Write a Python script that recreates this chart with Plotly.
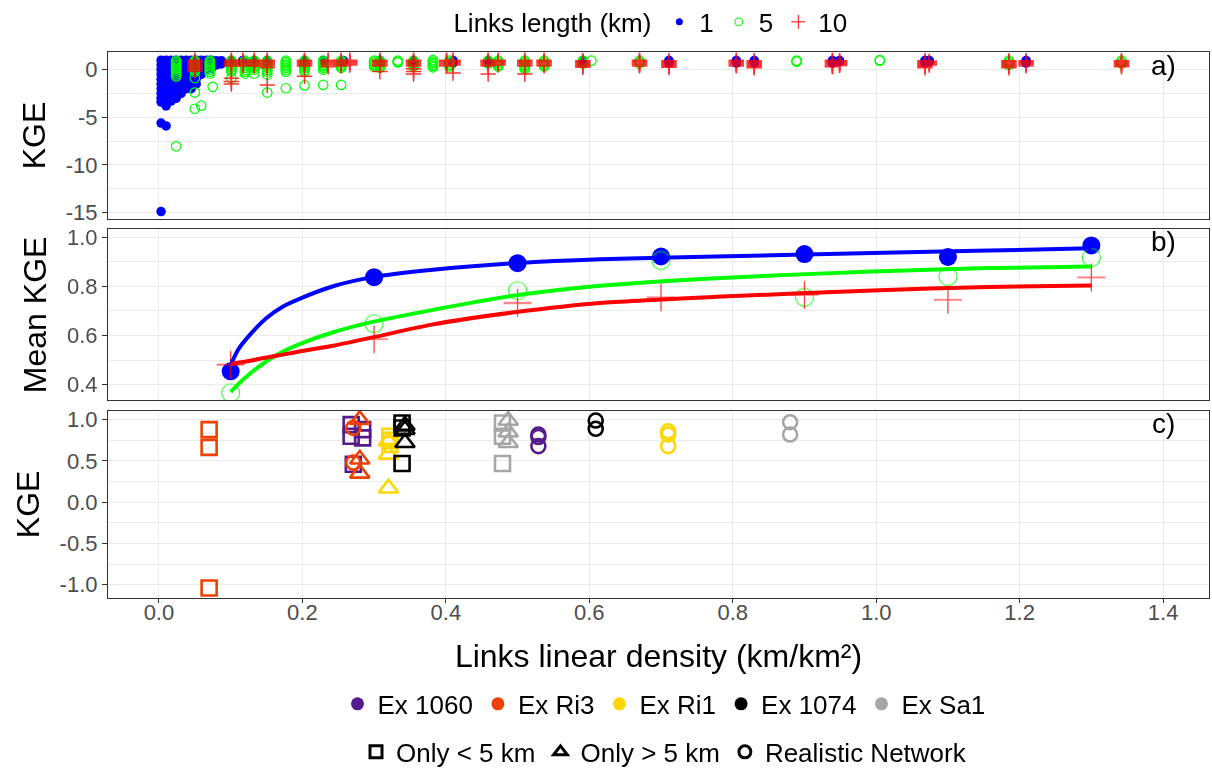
import plotly.graph_objects as go

FONT = "Liberation Sans"

# ---------------- Panel a: KGE of every link, by link length ----------------
# (links linear density, [KGE values])
a_len1 = [
    (0.003, [1.0, 0.5, 0.0, -0.5, -1.0, -1.5, -2.0, -2.5, -3.0, -3.4, -5.6, -14.9]),
    (0.010, [1.0, 0.5, 0.0, -0.5, -1.0, -1.5, -2.0, -2.5, -3.0, -3.5, -3.8, -5.9]),
    (0.017, [1.0, 0.5, 0.0, -0.5, -1.0, -1.5, -2.0, -2.5, -3.0, -3.3]),
    (0.024, [1.0, 0.5, 0.0, -0.5, -1.0, -1.5, -2.0, -2.5, -3.0]),
    (0.031, [1.0, 0.5, 0.0, -0.5, -1.0, -1.5, -2.0, -2.5]),
    (0.038, [1.0, 0.5, 0.0, -0.5, -1.0, -1.5, -2.0]),
    (0.045, [1.0, 0.5, 0.0, -0.5, -1.0, -1.5, -2.0]),
    (0.052, [1.0, 0.5, 0.0, -0.5, -1.0, -1.5]),
    (0.059, [1.0, 0.5, 0.0, -0.5]),
    (0.066, [1.0, 0.5, 0.0]),
    (0.073, [1.0, 0.5, 0.1]),
    (0.080, [0.95, 0.5]),
    (0.087, [0.95, 0.6]),
    (0.101, [0.97, 0.85, 0.7]),
    (0.117, [0.97, 0.85, 0.7]),
    (0.133, [0.97, 0.85, 0.7]),
    (0.151, [0.97, 0.85, 0.7]),
    (0.203, [0.97, 0.85, 0.7]),
    (0.229, [0.97, 0.85]),
    (0.257, [0.97, 0.85]),
    (0.308, [0.97, 0.85, 0.7]),
    (0.355, [0.97, 0.85, 0.7]),
    (0.410, [0.97, 0.85, 0.7]),
    (0.459, [0.97, 0.85, 0.7]),
    (0.591, [0.97, 0.85, 0.7]),
    (0.711, [0.97, 0.85, 0.7]),
    (0.805, [0.97, 0.85, 0.7]),
    (0.830, [0.97, 0.85, 0.7]),
    (0.939, [0.97, 0.85, 0.7]),
    (0.949, [0.97, 0.85]),
    (1.068, [0.97, 0.85, 0.7]),
    (1.074, [0.97, 0.85]),
    (1.209, [0.97, 0.85, 0.7]),
]
a_len5 = [
    (0.024, [0.95, 0.8, 0.65, 0.5, 0.35, 0.2, 0.05, -0.1, -0.3, -0.5, -0.7, -8.05]),
    (0.050, [0.95, 0.8, 0.65, 0.5, 0.35, 0.2, 0.0, -0.2, -0.87, -2.4, -4.1]),
    (0.059, [-3.78]),
    (0.071, [0.95, 0.8, 0.65, 0.5, 0.35, 0.2, 0.0, -0.2, -0.4]),
    (0.075, [-1.8]),
    (0.101, [0.95, 0.8, 0.65, 0.5, 0.35, 0.2, 0.0, -0.2, -0.9]),
    (0.120, [0.95, 0.8, 0.65, 0.5, 0.35, 0.2, 0.0, -0.2, -0.4]),
    (0.133, [0.95, 0.8, 0.65, 0.5, 0.35, 0.2, 0.0, -0.4]),
    (0.151, [0.95, 0.8, 0.65, 0.5, 0.35, 0.2, 0.0, -0.2, -0.5, -2.4]),
    (0.177, [0.95, 0.8, 0.65, 0.5, 0.35, 0.2, 0.0, -0.2, -1.95]),
    (0.203, [0.95, 0.8, 0.65, 0.5, 0.35, 0.2, 0.0, -0.2, -1.65]),
    (0.229, [0.95, 0.8, 0.65, 0.5, 0.35, 0.2, 0.0, -1.6]),
    (0.254, [0.95, 0.8, 0.65, 0.5, 0.35, 0.2, -1.6]),
    (0.300, [0.95, 0.8, 0.65, 0.5, 0.35]),
    (0.308, [0.95, 0.8, 0.65, 0.5, 0.35, 0.2]),
    (0.333, [0.95, 0.85, 0.75]),
    (0.355, [0.95, 0.8, 0.65, 0.5, 0.35]),
    (0.382, [1.0, 0.85, 0.7, 0.55, 0.4, 0.25]),
    (0.405, [0.95, 0.8, 0.65, 0.5, 0.35]),
    (0.459, [0.95, 0.8, 0.65]),
    (0.473, [0.95, 0.8, 0.65, 0.5, 0.35]),
    (0.510, [0.95, 0.8, 0.65, 0.5, 0.35, 0.2, 0.05]),
    (0.537, [0.95, 0.8, 0.65, 0.5, 0.35]),
    (0.591, [0.95, 0.8, 0.65]),
    (0.603, [0.95]),
    (0.670, [0.95, 0.8, 0.65]),
    (0.889, [0.95, 0.85]),
    (1.005, [1.0, 0.95]),
    (1.185, [0.95, 0.8, 0.65, 0.5]),
    (1.342, [0.95, 0.8, 0.65]),
]
a_len10 = [
    (0.050, [1.0, 0.9, 0.8, 0.7, 0.6, 0.5, 0.4, 0.3, 0.2, 0.1, 0.0, -0.15]),
    (0.101, [1.0, 0.9, 0.8, 0.7, 0.6, 0.5, 0.4, -0.9, -1.25, -1.5]),
    (0.117, [1.0, 0.9, 0.8, 0.7, 0.6, 0.5, 0.4]),
    (0.133, [1.0, 0.9, 0.8, 0.7, 0.6, 0.5, 0.4]),
    (0.151, [1.0, 0.9, 0.8, 0.7, 0.6, 0.5, 0.4, 0.2, -1.6]),
    (0.203, [1.0, 0.9, 0.8, 0.7, 0.6, 0.5, 0.4, -0.7]),
    (0.236, [1.0, 0.9, 0.8, 0.7, 0.6, 0.5, 0.3]),
    (0.254, [1.0, 0.9, 0.8, 0.7, 0.6, 0.5, 0.4]),
    (0.266, [1.0, 0.9, 0.8, 0.7, 0.6, 0.5]),
    (0.308, [1.0, 0.9, 0.8, 0.7, 0.6, 0.5, 0.4, -0.2]),
    (0.355, [1.0, 0.9, 0.8, 0.7, 0.6, 0.5, 0.4, 0.1, -0.2, -0.45]),
    (0.401, [1.0, 0.9, 0.8, 0.7, 0.6, 0.5, 0.4]),
    (0.410, [1.0, 0.9, 0.8, 0.7, 0.6, 0.5, -0.35]),
    (0.459, [1.0, 0.9, 0.8, 0.7, 0.6, 0.5, 0.4, -0.45]),
    (0.473, [1.0, 0.9, 0.8, 0.7, 0.6, 0.5]),
    (0.510, [1.0, 0.9, 0.8, 0.7, 0.6, 0.5, 0.4, -0.45]),
    (0.537, [1.0, 0.9, 0.8, 0.7, 0.6, 0.5, 0.4]),
    (0.591, [0.95, 0.85, 0.75, 0.65, 0.55, 0.45, 0.35, 0.25]),
    (0.670, [1.0, 0.9, 0.8, 0.7, 0.6, 0.5, 0.4]),
    (0.711, [0.95, 0.85, 0.75, 0.65, 0.55, 0.45, 0.35, 0.25]),
    (0.805, [1.0, 0.9, 0.8, 0.7, 0.6, 0.5, 0.4]),
    (0.830, [0.95, 0.85, 0.75, 0.65, 0.55, 0.45, 0.35, 0.2]),
    (0.939, [1.0, 0.9, 0.8, 0.7, 0.6, 0.5, 0.4, 0.3]),
    (0.949, [0.95, 0.85, 0.75, 0.65, 0.55, 0.45]),
    (1.068, [0.95, 0.85, 0.75, 0.65, 0.55, 0.45, 0.35, 0.2]),
    (1.074, [0.9, 0.8, 0.7, 0.6, 0.5]),
    (1.185, [0.95, 0.85, 0.75, 0.65, 0.55, 0.45, 0.35, 0.2]),
    (1.209, [0.95, 0.85, 0.75, 0.65, 0.55, 0.4]),
    (1.342, [0.95, 0.85, 0.75, 0.65, 0.55, 0.45, 0.3]),
]

# ---------------- Panel b: mean KGE and fitted curves ----------------
b_x = [0.1, 0.3, 0.5, 0.7, 0.9, 1.1, 1.3]
b_len1 = [0.454, 0.837, 0.894, 0.921, 0.931, 0.919, 0.966]
b_len5 = [0.366, 0.648, 0.782, 0.905, 0.755, 0.840, 0.917]
b_len10 = [0.481, 0.585, 0.732, 0.755, 0.765, 0.745, 0.836]

fit_x = [0.10, 0.11, 0.127, 0.15, 0.173, 0.196, 0.243, 0.298, 0.382, 0.498, 0.615, 0.777, 0.995, 1.157, 1.30]
fit_len1 = [0.48, 0.54, 0.603, 0.671, 0.718, 0.749, 0.80, 0.837, 0.867, 0.894, 0.91, 0.921, 0.935, 0.945, 0.955]
fit_len5 = [0.37, 0.40, 0.445, 0.495, 0.535, 0.565, 0.613, 0.655, 0.704, 0.763, 0.802, 0.833, 0.86, 0.874, 0.88]
fit_len10 = [0.484, 0.489, 0.497, 0.51, 0.522, 0.535, 0.558, 0.592, 0.645, 0.695, 0.732, 0.757, 0.783, 0.797, 0.803]

# ---------------- Panel c: KGE per example and network type ----------------
examples = ["Ex 1060", "Ex Ri3", "Ex Ri1", "Ex 1074", "Ex Sa1"]
example_colors = ["#551A8B", "#EE4000", "#FFD700", "#000000", "#A6A6A6"]
network_types = ["Only < 5 km", "Only > 5 km", "Realistic Network"]

c_small_x = [[0.268, 0.284, 0.268, 0.284, 0.271], [0.07, 0.07, 0.07], [0.322, 0.322, 0.322],
             [0.339, 0.339, 0.339], [0.479, 0.479, 0.479]]
c_small_y = [[0.94, 0.88, 0.80, 0.78, 0.46], [0.88, 0.665, -1.04], [0.80, 0.75, 0.70],
             [0.96, 0.90, 0.47], [0.96, 0.80, 0.47]]
c_large_x = [[], [0.28, 0.28, 0.28], [0.32, 0.32, 0.32], [0.343, 0.343, 0.343], [0.487, 0.487, 0.487]]
c_large_y = [[], [1.0, 0.52, 0.35], [0.74, 0.58, 0.17], [0.93, 0.88, 0.72], [0.99, 0.85, 0.72]]
c_real_x = [[0.529, 0.529, 0.529], [0.271, 0.271], [0.71, 0.71, 0.71], [0.609, 0.609], [0.88, 0.88]]
c_real_y = [[0.82, 0.79, 0.68], [0.90, 0.48], [0.86, 0.82, 0.68], [0.99, 0.89], [0.97, 0.82]]

# axis tick labels
a_ticks = [0, -5, -10, -15]
a_ticktext = ["0", "-5", "-10", "-15"]
b_ticks = [0.4, 0.6, 0.8, 1.0]
b_ticktext = ["0.4", "0.6", "0.8", "1.0"]
c_ticks = [-1.0, -0.5, 0.0, 0.5, 1.0]
c_ticktext = ["-1.0", "-0.5", "0.0", "0.5", "1.0"]
x_ticks = [0.0, 0.2, 0.4, 0.6, 0.8, 1.0, 1.2, 1.4]
x_ticktext = ["0.0", "0.2", "0.4", "0.6", "0.8", "1.0", "1.2", "1.4"]


def flatten(cols):
    xs, ys = [], []
    for x, vals in cols:
        for v in vals:
            xs.append(x)
            ys.append(v)
    return xs, ys


fig = go.Figure()

# ---- panel a
for cols, sym, color, size, lw, op in [
    (a_len1, "circle", "#0000FF", 9.5, 0, 1.0),
    (a_len5, "circle-open", "#00FF00", 9.5, 1.2, 1.0),
    (a_len10, "cross-thin", "#FF0000", 11, 1.5, 0.8),
]:
    xs, ys = flatten(cols)
    fig.add_trace(go.Scatter(
        x=xs, y=ys, mode="markers", xaxis="x", yaxis="y", showlegend=False,
        opacity=op,
        marker=dict(symbol=sym, size=size, color=color, line=dict(width=lw, color=color)),
        hoverinfo="skip"))

# ---- panel b points
fig.add_trace(go.Scatter(x=b_x, y=b_len1, mode="markers", xaxis="x2", yaxis="y2", showlegend=False,
                         marker=dict(symbol="circle", size=18, color="#0000FF")))
fig.add_trace(go.Scatter(x=b_x, y=b_len5, mode="markers", xaxis="x2", yaxis="y2", showlegend=False,
                         opacity=0.8,
                         marker=dict(symbol="circle-open", size=18, color="#00FF00",
                                     line=dict(width=1.1, color="#00FF00"))))
fig.add_trace(go.Scatter(x=b_x, y=b_len10, mode="markers", xaxis="x2", yaxis="y2", showlegend=False,
                         opacity=0.75,
                         marker=dict(symbol="cross-thin", size=20, color="#FF0000",
                                     line=dict(width=1.3, color="#FF0000"))))
# ---- panel b fitted curves
for fy, color in [(fit_len1, "#0000FF"), (fit_len5, "#00FF00"), (fit_len10, "#FF0000")]:
    fig.add_trace(go.Scatter(x=fit_x, y=fy, mode="lines", xaxis="x2", yaxis="y2", showlegend=False,
                             line=dict(color=color, width=4, shape="spline", smoothing=0.6)))

# ---- panel c
for i, ex in enumerate(examples):
    col = example_colors[i]
    for xs, ys, sym, size in [
        (c_small_x[i], c_small_y[i], "square-open", 15),
        (c_large_x[i], c_large_y[i], "triangle-up-open", 17),
        (c_real_x[i], c_real_y[i], "circle-open", 14),
    ]:
        if not xs:
            continue
        fig.add_trace(go.Scatter(
            x=xs, y=ys, mode="markers", xaxis="x3", yaxis="y3", showlegend=False,
            marker=dict(symbol=sym, size=size, color=col, line=dict(width=2.6, color=col))))

# ---- legend-only entries
for name, sym, color, size, lw in [
    ("1", "circle", "#0000FF", 7, 0),
    ("5", "circle-open", "#00FF00", 8, 1),
    ("10", "cross-thin", "#FF0000", 10, 1),
]:
    fig.add_trace(go.Scatter(x=[None], y=[None], mode="markers", name=name, legend="legend",
                             xaxis="x3", yaxis="y3",
                             marker=dict(symbol=sym, size=size, color=color,
                                         line=dict(width=lw, color=color))))
for ex, col in zip(examples, example_colors):
    fig.add_trace(go.Scatter(x=[None], y=[None], mode="markers", name=ex, legend="legend2",
                             xaxis="x3", yaxis="y3",
                             marker=dict(symbol="circle", size=13, color=col)))
for nt, sym in zip(network_types, ["square-open", "triangle-up-open", "circle-open"]):
    fig.add_trace(go.Scatter(x=[None], y=[None], mode="markers", name=nt, legend="legend3",
                             xaxis="x3", yaxis="y3",
                             marker=dict(symbol=sym, size=12, color="#000000",
                                         line=dict(width=3, color="#000000"))))

GRID = "#EBEBEB"
BORDER = "#333333"
TICKFONT = dict(family=FONT, size=22, color="#4D4D4D")
TITLEFONT = dict(family=FONT, size=32, color="#000000")
XRANGE = [-0.071, 1.464]

xcommon = dict(range=XRANGE, showgrid=True, gridcolor=GRID, gridwidth=1.3, tickvals=x_ticks,
               zeroline=False, showline=True, mirror=True, linecolor=BORDER, linewidth=1.2)
ycommon = dict(showgrid=True, gridcolor=GRID, gridwidth=1.3, zeroline=False, showline=True,
               mirror=True, linecolor=BORDER, linewidth=1.2, ticks="outside", ticklen=5,
               tickcolor=BORDER, tickwidth=1.1, tickfont=TICKFONT, title_font=TITLEFONT,
               title_standoff=10)

fig.update_layout(
    width=1212, height=769,
    margin=dict(l=108, r=3, t=52, b=171, autoexpand=False),
    paper_bgcolor="white", plot_bgcolor="white",
    font=dict(family=FONT, color="#000000"),
    xaxis=dict(anchor="y", domain=[0, 1], showticklabels=False, ticks="", **xcommon),
    xaxis2=dict(anchor="y2", domain=[0, 1], showticklabels=False, ticks="", **xcommon),
    xaxis3=dict(anchor="y3", domain=[0, 1], ticktext=x_ticktext, ticks="outside", ticklen=4,
                tickcolor=BORDER, tickfont=TICKFONT, ticklabelstandoff=-10,
                title=dict(text="Links linear density (km/km²)", font=TITLEFONT, standoff=21),
                **xcommon),
    yaxis=dict(anchor="x", domain=[0.694, 1.0], range=[-15.69, 1.86], tickvals=a_ticks,
               ticktext=a_ticktext, minor=dict(dtick=2.5, tick0=0, showgrid=True, gridcolor=GRID,
                                               gridwidth=1.0),
               title_text="KGE", **ycommon),
    yaxis2=dict(anchor="x2", domain=[0.362, 0.675], range=[0.336, 1.031], tickvals=b_ticks,
                ticktext=b_ticktext, minor=dict(dtick=0.1, tick0=0, showgrid=True, gridcolor=GRID,
                                                gridwidth=1.0),
                title_text="Mean KGE", **ycommon),
    yaxis3=dict(anchor="x3", domain=[0.0, 0.343], range=[-1.161, 1.109], tickvals=c_ticks,
                ticktext=c_ticktext, minor=dict(dtick=0.25, tick0=0, showgrid=True, gridcolor=GRID,
                                                gridwidth=1.0),
                title_text="KGE", **ycommon),
    legend=dict(orientation="h", x=0.494, xanchor="center", y=1.055, yanchor="middle",
                title=dict(text="Links length (km)", font=dict(family=FONT, size=26)),
                font=dict(family=FONT, size=26), bgcolor="rgba(0,0,0,0)"),
    legend2=dict(orientation="h", x=0.505, xanchor="center", y=-0.194, yanchor="middle",
                 font=dict(family=FONT, size=26), bgcolor="rgba(0,0,0,0)"),
    legend3=dict(orientation="h", x=0.505, xanchor="center", y=-0.282, yanchor="middle",
                 font=dict(family=FONT, size=26), bgcolor="rgba(0,0,0,0)"),
    annotations=[
        dict(text="a)", x=1.4, y=0.42, xref="x", yref="y", showarrow=False,
             font=dict(family=FONT, size=28, color="#000000")),
        dict(text="b)", x=1.4, y=0.98, xref="x2", yref="y2", showarrow=False,
             font=dict(family=FONT, size=28, color="#000000")),
        dict(text="c)", x=1.4, y=0.952, xref="x3", yref="y3", showarrow=False,
             font=dict(family=FONT, size=28, color="#000000")),
    ],
)

fig.write_html("out.html", config={"displayModeBar": False},
               post_script="document.body.style.margin='0px';")
